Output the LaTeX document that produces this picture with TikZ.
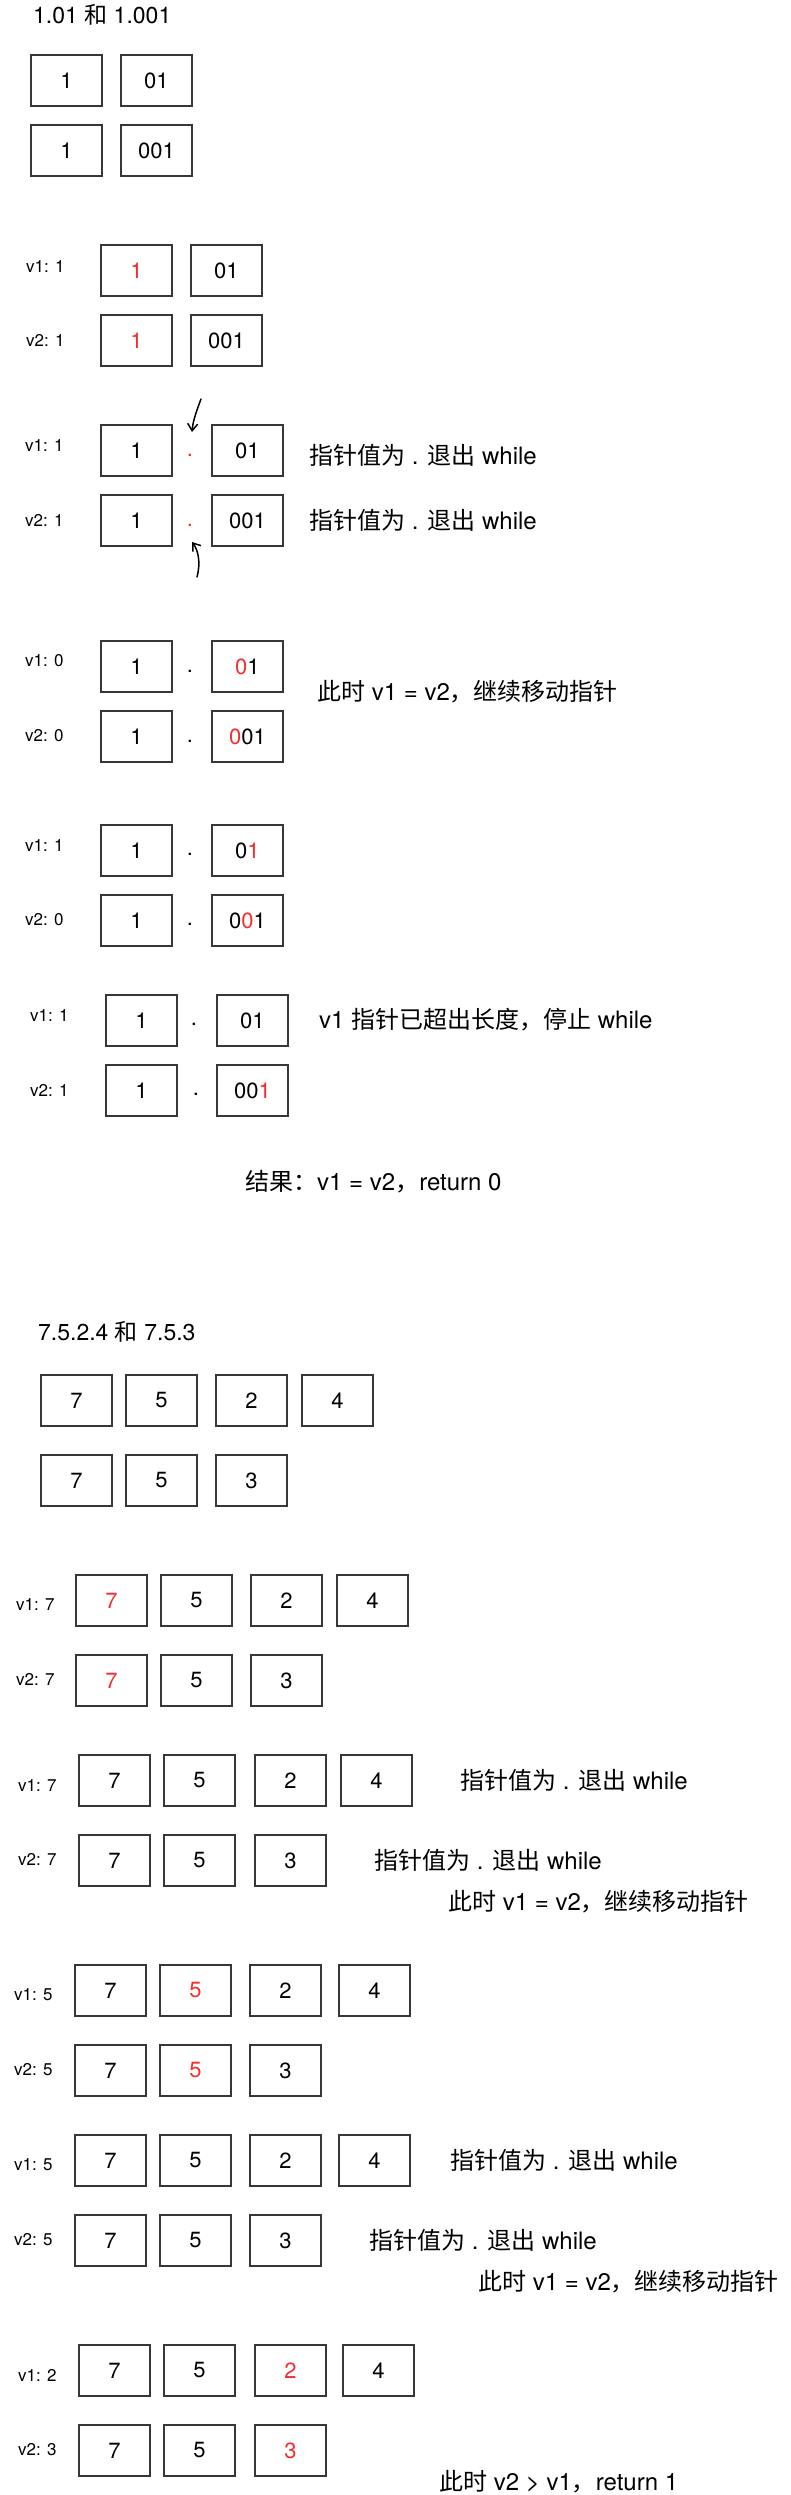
\documentclass[tikz,border=0pt]{standalone}
\usepackage{fontspec}
\setmainfont{TeX Gyre Heros}
\newfontfamily\cjk{Noto Sans CJK SC}
\usetikzlibrary{arrows.meta}
\definecolor{hl}{RGB}{245,45,45}
\definecolor{edge}{RGB}{55,55,55}
\newcommand\zh[1]{{\cjk #1}}
\newcommand\hl[1]{\textcolor{hl}{#1}}
\begin{document}
\begin{tikzpicture}[x=1pt,y=-1pt,
 bx/.style={draw=edge, line width=1.8pt, minimum width=71pt, minimum height=51pt, inner sep=0pt, anchor=north west, font=\fontsize{22}{26}\selectfont},
 lbl/.style={anchor=west, inner sep=0pt, font=\fontsize{17}{20}\selectfont},
 note/.style={anchor=west, inner sep=0pt, font=\fontsize{24}{28}\selectfont},
 ttl/.style={anchor=west, inner sep=0pt, font=\fontsize{23}{27}\selectfont},
 pnt/.style={anchor=base, inner sep=0pt, font=\fontsize{22}{26}\selectfont},
 hand/.style={line width=1.5pt, line cap=round, -{Straight Barb[length=7pt,width=10pt]}},
]
\fill[white] (0,0) rectangle (791,2495);
\useasboundingbox (0,0) rectangle (791,2495);

% ---------- part 1 ----------
\node[ttl] (t1) at (33,15) {1.01 \zh{和} 1.001};
\node[bx] (a11) at (30,54) {1};
\node[bx] (a12) at (120,54) {01};
\node[bx] (a21) at (30,124) {1};
\node[bx] (a22) at (120,124) {001};

\node[lbl] (bl1) at (26,266) {v1: 1};
\node[bx] (b11) at (100,244) {\hl{1}};
\node[bx] (b12) at (190,244) {01};
\node[lbl] (bl2) at (26,340) {v2: 1};
\node[bx] (b21) at (100,314) {\hl{1}};
\node[bx] (b22) at (190,314) {001};

\node[lbl] (cl1) at (25,445) {v1: 1};
\node[bx] (c11) at (100,424) {1};
\node[pnt,text=hl] (cd1) at (190,456.5) {.};
\node[bx] (c12) at (211,424) {01};
\node[note] (cn1) at (309,455) {\zh{指针值为} . \zh{退出} while};
\node[lbl] (cl2) at (25,520) {v2: 1};
\node[bx] (c21) at (100,494) {1};
\node[pnt,text=hl] (cd2) at (190,526.5) {.};
\node[bx] (c22) at (211,494) {001};
\node[note] (cn2) at (309,520) {\zh{指针值为} . \zh{退出} while};
\coordinate (p1s) at (201,399);
\coordinate (p1e) at (192,432);
\draw[hand] (p1s) .. controls (197,410) and (193,420) .. (p1e);
\coordinate (p2s) at (197,577);
\coordinate (p2e) at (192,542);
\draw[hand] (p2s) .. controls (201,562) and (198,550) .. (p2e);

\node[lbl] (dl1) at (25,661) {v1: 0};
\node[bx] (d11) at (100,640) {1};
\node[pnt] (dd1) at (190,672) {.};
\node[bx] (d12) at (211,640) {\hl{0}1};
\node[lbl] (dl2) at (25,736) {v2: 0};
\node[bx] (d21) at (100,710) {1};
\node[pnt] (dd2) at (190,742) {.};
\node[bx] (d22) at (211,710) {\hl{0}01};
\node[note] (dn1) at (317,692) {\zh{此时} v1 = v2\zh{，继续移动指针}};

\node[lbl] (el1) at (25,845) {v1: 1};
\node[bx] (e11) at (100,824) {1};
\node[pnt] (ed1) at (190,855) {.};
\node[bx] (e12) at (211,824) {0\hl{1}};
\node[lbl] (el2) at (25,920) {v2: 0};
\node[bx] (e21) at (100,894) {1};
\node[pnt] (ed2) at (190,925) {.};
\node[bx] (e22) at (211,894) {0\hl{0}1};

\node[lbl] (fl1) at (30,1015) {v1: 1};
\node[bx] (f11) at (105,994) {1};
\node[pnt] (fd1) at (194,1025) {.};
\node[bx] (f12) at (216,994) {01};
\node[note] (fn1) at (319,1020) {v1 \zh{指针已超出长度，停止} while};
\node[lbl] (fl2) at (30,1090) {v2: 1};
\node[bx] (f21) at (105,1064) {1};
\node[pnt] (fd2) at (196,1095) {.};
\node[bx] (f22) at (216,1064) {00\hl{1}};
\node[note] (res1) at (245,1182) {\zh{结果：}v1 = v2\zh{，}return 0};

% ---------- part 2 ----------
\node[ttl] (t2) at (38,1332) {7.5.2.4 \zh{和} 7.5.3};
\node[bx] (g11) at (40,1374) {7};
\node[bx] (g12) at (125,1374) {5};
\node[bx] (g13) at (215,1374) {2};
\node[bx] (g14) at (301,1374) {4};
\node[bx] (g21) at (40,1454) {7};
\node[bx] (g22) at (125,1454) {5};
\node[bx] (g23) at (215,1454) {3};

\node[lbl] (hl1) at (16,1604) {v1: 7};
\node[bx] (h11) at (75,1574) {\hl{7}};
\node[bx] (h12) at (160,1574) {5};
\node[bx] (h13) at (250,1574) {2};
\node[bx] (h14) at (336,1574) {4};
\node[lbl] (hl2) at (16,1679) {v2: 7};
\node[bx] (h21) at (75,1654) {\hl{7}};
\node[bx] (h22) at (160,1654) {5};
\node[bx] (h23) at (250,1654) {3};

\node[lbl] (il1) at (18,1785) {v1: 7};
\node[bx] (i11) at (78,1754) {7};
\node[bx] (i12) at (163,1754) {5};
\node[bx] (i13) at (254,1754) {2};
\node[bx] (i14) at (340,1754) {4};
\node[note] (in1) at (460,1780) {\zh{指针值为} . \zh{退出} while};
\node[lbl] (il2) at (18,1859) {v2: 7};
\node[bx] (i21) at (78,1834) {7};
\node[bx] (i22) at (163,1834) {5};
\node[bx] (i23) at (254,1834) {3};
\node[note] (in2) at (374,1860) {\zh{指针值为} . \zh{退出} while};
\node[note] (in3) at (448,1902) {\zh{此时} v1 = v2\zh{，继续移动指针}};

\node[lbl] (jl1) at (14,1995) {v1: 5};
\node[bx] (j11) at (74,1964) {7};
\node[bx] (j12) at (159,1964) {\hl{5}};
\node[bx] (j13) at (249,1964) {2};
\node[bx] (j14) at (338,1964) {4};
\node[lbl] (jl2) at (14,2070) {v2: 5};
\node[bx] (j21) at (74,2044) {7};
\node[bx] (j22) at (159,2044) {\hl{5}};
\node[bx] (j23) at (249,2044) {3};

\node[lbl] (kl1) at (14,2165) {v1: 5};
\node[bx] (k11) at (74,2134) {7};
\node[bx] (k12) at (159,2134) {5};
\node[bx] (k13) at (249,2134) {2};
\node[bx] (k14) at (338,2134) {4};
\node[note] (kn1) at (450,2160) {\zh{指针值为} . \zh{退出} while};
\node[lbl] (kl2) at (14,2240) {v2: 5};
\node[bx] (k21) at (74,2214) {7};
\node[bx] (k22) at (159,2214) {5};
\node[bx] (k23) at (249,2214) {3};
\node[note] (kn2) at (369,2240) {\zh{指针值为} . \zh{退出} while};
\node[note] (kn3) at (478,2282) {\zh{此时} v1 = v2\zh{，继续移动指针}};

\node[lbl] (ll1) at (18,2375) {v1: 2};
\node[bx] (l11) at (78,2344) {7};
\node[bx] (l12) at (163,2344) {5};
\node[bx] (l13) at (254,2344) {\hl{2}};
\node[bx] (l14) at (342,2344) {4};
\node[lbl] (ll2) at (18,2450) {v2: 3};
\node[bx] (l21) at (78,2424) {7};
\node[bx] (l22) at (163,2424) {5};
\node[bx] (l23) at (254,2424) {\hl{3}};
\node[note] (ln1) at (439,2482) {\zh{此时} v2 > v1\zh{，}return 1};
\end{tikzpicture}
\end{document}
